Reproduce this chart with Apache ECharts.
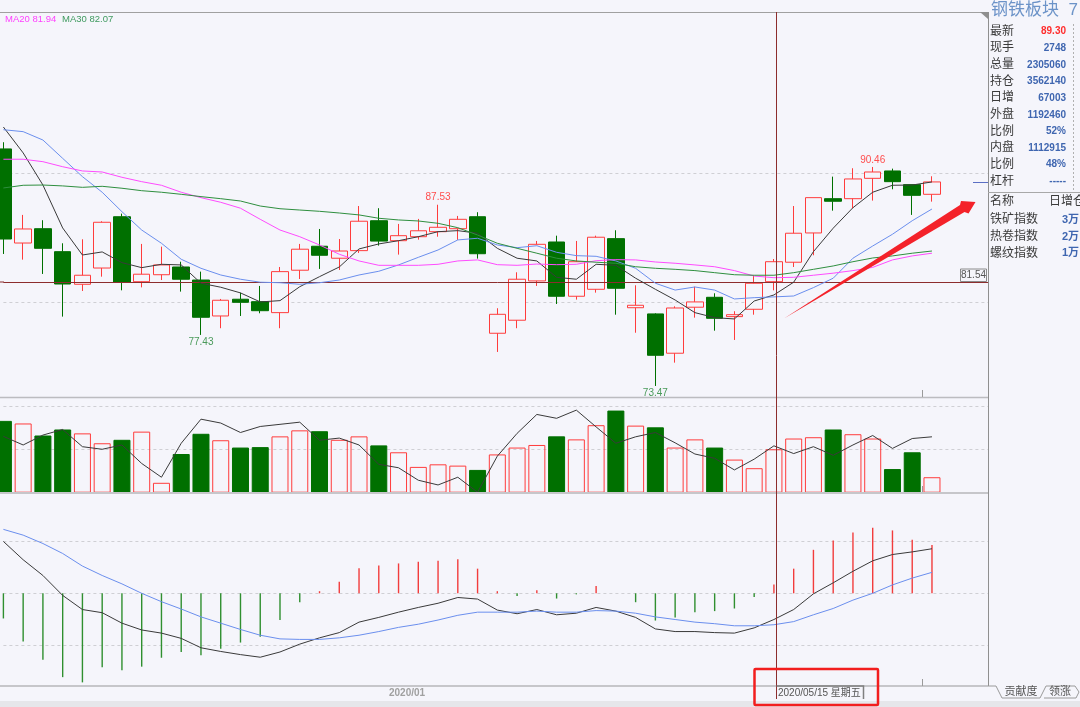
<!DOCTYPE html>
<html>
<head>
<meta charset="utf-8">
<style>
html,body{margin:0;padding:0;background:#f5f5fb;}
#main{width:1080px;height:707px;}
</style>
<script src="https://cdn.jsdelivr.net/npm/echarts@6/dist/echarts.min.js"></script>
</head>
<body>
<div id="main"></div>
<script>
// weekly bars, the last three slots on the axis are empty
var categories = [
  '2019/08/16','2019/08/23','2019/08/30','2019/09/06','2019/09/13','2019/09/20','2019/09/27','2019/10/04','2019/10/11','2019/10/18',
  '2019/10/25','2019/11/01','2019/11/08','2019/11/15','2019/11/22','2019/11/29','2019/12/06','2019/12/13','2019/12/20','2019/12/27',
  '2020/01/03','2020/01/10','2020/01/17','2020/01/24','2020/01/31','2020/02/07','2020/02/14','2020/02/21','2020/02/28','2020/03/06',
  '2020/03/13','2020/03/20','2020/03/27','2020/04/03','2020/04/10','2020/04/17','2020/04/24','2020/05/01','2020/05/08','2020/05/15',
  '2020/05/22','2020/05/29','2020/06/05','2020/06/12','2020/06/19','2020/06/26','2020/07/03','2020/07/10','2020/07/17','2020/07/24','2020/07/31'
];
var yearLabelDate = '2020/01/03';
var candleOpen = [
  91.86,84.56,85.67,83.89,81.36,82.62,86.60,81.56,82.10,82.70,
  81.69,78.90,80.20,80.01,79.16,82.45,84.31,83.38,83.97,86.29,
  84.74,85.05,85.44,85.67,86.60,77.56,78.57,81.62,84.64,80.43,
  80.97,84.90,79.54,79.06,76.01,79.58,80.35,78.85,79.42,81.56,
  83.07,85.34,88.00,88.00,89.58,90.15,89.09,88.34
];
var candleClose = [
  84.87,85.65,84.15,81.38,82.06,86.17,81.51,82.14,82.86,81.75,
  78.80,80.12,79.96,79.31,82.34,84.08,83.61,83.94,86.25,84.71,
  85.13,85.51,85.78,86.40,83.73,79.03,81.75,84.46,80.43,83.11,
  85.01,81.05,79.73,75.85,79.52,79.99,78.72,79.00,81.44,83.11,
  85.32,88.08,87.80,89.53,90.07,89.32,88.26,89.30
];
var candleLow = [
  83.71,83.27,82.16,78.85,80.84,81.95,80.89,81.12,81.69,80.79,
  77.43,77.95,78.90,79.11,77.95,81.77,82.55,82.47,83.79,84.36,
  83.66,84.82,85.05,84.80,83.35,76.11,77.95,81.23,79.83,80.17,
  80.71,79.00,77.60,73.47,75.28,78.77,77.76,77.04,79.00,80.89,
  82.70,83.61,87.07,87.26,87.85,88.73,86.74,87.77
];
var candleHigh = [
  92.38,86.74,86.33,84.54,84.85,86.25,86.84,84.49,84.28,83.11,
  82.34,80.22,80.71,81.23,82.70,84.49,85.65,84.87,87.43,87.26,
  86.04,86.43,87.53,86.66,86.95,79.50,82.29,84.72,85.13,84.72,
  85.13,85.55,81.28,79.11,79.65,81.17,80.66,79.27,82.03,83.32,
  87.43,88.08,89.71,90.36,90.46,90.33,89.09,89.74
];
var ma5 = [
  93.56,91.55,89.06,85.73,83.63,83.87,83.04,82.65,82.91,82.86,
  81.44,81.13,80.69,79.99,80.09,81.17,81.95,82.70,84.10,84.49,
  84.74,85.05,85.44,85.52,85.32,84.15,83.38,83.17,81.90,81.75,
  82.91,82.83,81.83,80.97,80.14,79.16,78.77,78.67,80.06,80.53,
  81.52,83.89,85.71,87.30,88.50,89.04,89.06,89.30
];
var ma10 = [
  93.35,93.20,92.55,91.13,89.71,88.50,86.99,85.57,84.54,83.30,
  82.60,82.08,81.75,81.52,81.48,81.36,81.48,81.69,82.08,82.37,
  82.86,83.45,84.02,84.80,84.93,84.41,84.20,84.35,83.84,83.58,
  83.53,83.17,82.60,81.44,80.91,81.15,80.91,80.22,80.32,80.38,
  80.45,81.10,81.83,83.38,84.33,85.24,86.29,87.20
];
var ma20 = [
  91.06,91.06,90.87,90.48,90.15,90.07,89.66,89.32,89.04,88.50,
  88.08,87.72,87.26,86.40,85.57,85.05,84.41,83.69,83.17,82.83,
  82.83,82.83,82.91,83.17,83.25,82.88,82.83,82.93,82.88,82.91,
  83.19,83.27,83.25,83.09,82.99,82.86,82.72,82.42,82.00,81.87,
  81.90,82.06,82.22,82.42,82.67,83.25,83.56,83.77
];
var ma30 = [
  88.83,89.04,89.06,88.99,88.88,88.96,88.81,88.62,88.50,88.34,
  88.16,88.00,87.82,87.43,87.22,87.12,87.02,86.89,86.74,86.48,
  86.35,86.27,86.09,85.75,85.18,84.54,84.15,83.77,83.38,83.17,
  83.07,82.99,82.72,82.60,82.52,82.42,82.26,82.10,82.06,82.06,
  82.26,82.52,82.78,83.11,83.40,83.56,83.77,83.94
];
var volume = [
  167,161,133,147,138,115,123,142,23,90,
  137,122,105,106,131,145,143,123,131,110,
  94,60,66,63,53,89,105,111,131,124,
  157,191,156,152,105,124,105,77,57,101,
  126,129,147,136,126,55,94,36
];
// 1 = hollow red bar, 0 = solid green bar
var volumeRed = [
  0,1,0,0,1,1,0,1,1,0,
  0,1,0,0,1,1,0,1,1,0,
  1,1,1,1,0,1,1,1,0,1,
  1,0,1,0,1,1,0,1,1,1,
  1,1,0,1,1,0,0,1
];
var openInterest = [
  131,111,134,147,107,101,111,68,36,115,
  171,162,140,154,159,164,122,127,111,66,
  58,29,18,36,1,85,138,182,173,192,
  153,115,130,140,116,90,80,53,78,109,
  91,107,87,111,133,103,126,130
];
var macdBar = [
  -0.48,-0.92,-1.27,-1.60,-1.70,-1.41,-1.47,-1.40,-1.23,-1.12,
  -1.18,-1.06,-0.94,-0.83,-0.51,-0.17,0.04,0.22,0.48,0.53,
  0.57,0.60,0.62,0.65,0.47,0.04,-0.05,0.06,-0.10,-0.02,
  0.14,0,-0.17,-0.52,-0.46,-0.36,-0.34,-0.29,-0.07,0.17,
  0.47,0.83,1.01,1.16,1.25,1.20,1.02,0.92
];
var dif = [
  0.99,0.64,0.34,-0.04,-0.31,-0.37,-0.57,-0.70,-0.76,-0.86,
  -1.04,-1.11,-1.17,-1.22,-1.12,-0.97,-0.85,-0.75,-0.55,-0.46,
  -0.36,-0.27,-0.19,-0.08,-0.11,-0.32,-0.39,-0.31,-0.41,-0.38,
  -0.27,-0.34,-0.46,-0.68,-0.73,-0.73,-0.75,-0.76,-0.66,-0.50,
  -0.31,-0.01,0.20,0.42,0.62,0.74,0.79,0.85
];
var dea = [
  1.22,1.11,0.95,0.76,0.52,0.34,0.18,0,-0.16,-0.30,
  -0.45,-0.57,-0.69,-0.80,-0.87,-0.88,-0.88,-0.85,-0.80,-0.73,
  -0.65,-0.59,-0.51,-0.42,-0.36,-0.36,-0.36,-0.34,-0.36,-0.36,
  -0.33,-0.34,-0.38,-0.45,-0.50,-0.55,-0.58,-0.62,-0.62,-0.60,
  -0.54,-0.41,-0.29,-0.13,0,0.16,0.29,0.40
];
var crossPrice = 81.54;
var peakLabels = [
  {i: 44, value: 90.46, pos: 'top', color: '#ff4d4d'},
  {i: 22, value: 87.53, pos: 'top', color: '#ff4d4d'},
  {i: 10, value: 77.43, pos: 'bottom', color: '#4a9a5a'},
  {i: 33, value: 73.47, pos: 'bottom', color: '#4a9a5a'}
];
var quoteLabels = ['最新','现手','总量','持仓','日增','外盘','比例','内盘','比例','杠杆'];
var quoteValues = ['89.30','2748','2305060','3562140','67003','1192460','52%','1112915','48%','-----'];
var sectorNames = ['铁矿指数','热卷指数','螺纹指数'];
var sectorValues = ['3万','2万','1万'];

var BG = '#f5f5fb', RED = '#ff3c3c', GREEN = '#007000', FONT = 'Liberation Sans, "Noto Sans CJK SC", sans-serif';
var candles = candleOpen.map(function(o, i){ return [o, candleClose[i], candleLow[i], candleHigh[i]]; });
var volumeItems = volume.map(function(v, i){
  return {value: v, itemStyle: volumeRed[i]
    ? {color: 'rgba(0,0,0,0)', borderColor: RED, borderWidth: 1}
    : {color: GREEN, borderColor: GREEN, borderWidth: 1}};
});

function ma(name, data, color, xi, yi, width){
  return {name: name, type: 'line', data: data, xAxisIndex: xi, yAxisIndex: yi, symbol: 'none', silent: true,
    lineStyle: {color: color, width: width || 1}, z: 5};
}
function xAxisFor(i, extra){
  var a = {type: 'category', gridIndex: i, data: categories, boundaryGap: false,
    axisLine: {show: false}, axisTick: {show: false}, axisLabel: {show: false}, splitLine: {show: false}};
  for (var k in extra) a[k] = extra[k];
  return a;
}
function yAxisFor(i, min, max, interval, hideMax){
  return {type: 'value', gridIndex: i, min: min, max: max, interval: interval, position: 'right',
    axisLine: {show: false}, axisTick: {show: false}, axisLabel: {show: false},
    splitLine: {show: true, showMinLine: false, showMaxLine: !hideMax, lineStyle: {color: '#cfcfd4', type: [3, 3], width: 1}}};
}

// grid starts on the first bar's centre, that bar is half outside the page
var gridLeft = 3.4, gridW = 987.85;
var option = {
  backgroundColor: BG,
  animation: false,
  textStyle: {fontFamily: FONT},
  grid: [
    {left: gridLeft, width: gridW, top: 44, height: 386.7},
    {left: gridLeft, width: gridW, top: 406.7, height: 86},
    {left: gridLeft, width: gridW, top: 488.5, height: 209.6}
  ],
  xAxis: [
    xAxisFor(0),
    xAxisFor(1),
    xAxisFor(2, {axisLabel: {show: true, inside: true, margin: 0, color: '#a0a0a0', fontSize: 10, fontWeight: 'bold',
      padding: [0, 0, 0, 17],
      interval: function(i, v){ return v === yearLabelDate; },
      formatter: function(v){ return v.slice(0, 7); }}})
  ],
  yAxis: [
    yAxisFor(0, 70, 100, 10, true),
    yAxisFor(1, 0, 200, 100, false),
    yAxisFor(2, -2, 2, 1, true)
  ],
  series: [
    {name: 'K', type: 'candlestick', data: candles, xAxisIndex: 0, yAxisIndex: 0, barWidth: 17, silent: true, clip: false,
      itemStyle: {color: BG, color0: GREEN, borderColor: RED, borderColor0: GREEN, borderWidth: 1},
      markLine: {silent: true, symbol: 'none', animation: false, label: {show: false},
        lineStyle: {color: '#8c2d2d', width: 1, type: 'solid'}, data: [{yAxis: crossPrice}]},
      markPoint: {silent: true, symbol: 'circle', symbolSize: 0, animation: false,
        data: peakLabels.map(function(p){
          return {coord: [p.i, p.value], label: {show: true, position: p.pos, distance: 2, color: p.color, fontSize: 10,
            formatter: p.value.toFixed(2)}};
        })}
    },
    ma('MA5', ma5, '#3a3a3a', 0, 0),
    ma('MA10', ma10, '#6b8fee', 0, 0),
    ma('MA20', ma20, '#ff4cff', 0, 0),
    ma('MA30', ma30, '#2f8f3f', 0, 0),
    {name: 'VOL', type: 'bar', data: volumeItems, xAxisIndex: 1, yAxisIndex: 1, barWidth: 17, silent: true, clip: false},
    ma('OI', openInterest, '#3a3a3a', 1, 1),
    {name: 'MACD', type: 'bar', data: macdBar, xAxisIndex: 2, yAxisIndex: 2, barWidth: 1.4, silent: true, clip: false,
      itemStyle: {color: function(p){ return p.value >= 0 ? '#f23c3c' : '#2f8f2f'; }}
    },
    ma('DIF', dif, '#3a3a3a', 2, 2),
    ma('DEA', dea, '#6b8fee', 2, 2)
  ],
  graphic: {elements: buildGraphics()}
};

function line(x1, y1, x2, y2, color, w, z){
  return {type: 'line', silent: true, z: z || 20, shape: {x1: x1, y1: y1, x2: x2, y2: y2}, style: {stroke: color, lineWidth: w || 1}};
}
function text(x, y, s, color, size, align, weight, z){
  return {type: 'text', silent: true, z: z || 32, x: x, y: y, style: {text: s, fill: color, fontSize: size, fontFamily: FONT,
    textAlign: align || 'left', textVerticalAlign: 'middle', fontWeight: weight || 'normal'}};
}
function buildGraphics(){
  var g = [];
  // pane borders
  g.push(line(0, 12.5, 988, 12.5, '#a0a0a0'));
  g.push(line(0, 397.5, 988, 397.5, '#bcbcc0', 1.5));
  g.push(line(0, 493, 988, 493, '#c6c6ca', 2));
  g.push(line(0, 686, 988, 686, '#c6c6ca', 2));
  // crosshair
  g.push(line(776.5, 12, 776.5, 699, '#8c2d2d', 1, 21));
  g.push(line(0, 282, 4, 282, '#8c2d2d'));
  // tick marks on the pane borders
  g.push(line(922.5, 390, 922.5, 397, '#9a9a9a'));
  g.push(line(922.5, 486, 922.5, 492, '#9a9a9a'));
  g.push(line(922.5, 679, 922.5, 686, '#9a9a9a'));
  // MA legend
  g.push(text(5, 19.5, 'MA20 81.94', '#ff40ff', 9.5));
  g.push(text(62, 19.5, 'MA30 82.07', '#3f9a5f', 9.5));
  // crosshair price box
  g.push({type: 'rect', silent: true, z: 22, shape: {x: 960.5, y: 269, width: 26, height: 12.5},
    style: {fill: '#f5f5fb', stroke: '#8a8a8a', lineWidth: 1}});
  g.push(text(973.5, 275.5, crossPrice.toFixed(2), '#555', 10, 'center', 'normal', 23));
  // bottom strip
  g.push({type: 'rect', silent: true, z: 18, shape: {x: 0, y: 701, width: 1080, height: 6}, style: {fill: '#e6e6ea'}});
  // date box under the crosshair
  g.push({type: 'polyline', silent: true, z: 22, shape: {points: [[776.5, 686], [863.5, 686], [863.5, 699]]},
    style: {fill: null, stroke: '#808080', lineWidth: 1.5}});
  g.push(text(778, 693, '2020/05/15 星期五', '#555', 10));
  // right panel
  g.push({type: 'rect', silent: true, z: 30, shape: {x: 988, y: 0, width: 92, height: 701}, style: {fill: BG}});
  g.push(line(988.5, 12, 988.5, 686, '#8f8f8f', 1, 31));
  g.push({type: 'polygon', silent: true, z: 31, shape: {points: [[980, 12], [988, 12], [988, 19]]}, style: {fill: '#8f8f8f'}});
  g.push(line(973, 182.5, 988, 182.5, '#5b6fc4', 1, 31));
  g.push(text(991, 10.5, '钢铁板块  7', '#6c93c8', 17));
  g.push(line(1073.5, 24, 1073.5, 190, '#b0b0b0', 1, 31));
  g[g.length - 1].style.lineDash = [2, 2];
  quoteLabels.forEach(function(s, i){
    var y = 31.5 + i * 16.65;
    g.push(text(990, y, s, '#3a3a3a', 12));
    g.push(text(1066, y, quoteValues[i], i === 0 ? '#ff2d2d' : '#3f66b0', 10, 'right', 'bold'));
  });
  g.push(line(988, 192.5, 1080, 192.5, '#a8a8a8', 1, 31));
  g.push(text(990, 202, '名称', '#3a3a3a', 12));
  g.push(text(1049, 202, '日增仓', '#3a3a3a', 12));
  sectorNames.forEach(function(s, i){
    var y = 220 + i * 16.7;
    g.push(text(990, y, s, '#3a3a3a', 12));
    g.push(text(1079, y, sectorValues[i], '#3f66b0', 11, 'right', 'bold'));
  });
  // tabs
  g.push({type: 'polyline', silent: true, z: 31, shape: {points: [[988, 686], [996, 686], [1002, 698], [1040, 698], [1046, 686], [1075, 686], [1079, 692]]},
    style: {fill: null, stroke: '#9a9a9a', lineWidth: 1}});
  g.push({type: 'polyline', silent: true, z: 31, shape: {points: [[1044, 698], [1076, 698], [1079, 692]]},
    style: {fill: null, stroke: '#9a9a9a', lineWidth: 1}});
  g.push(text(1021, 692, '贡献度', '#555', 11, 'center'));
  g.push(text(1060, 692, '领涨', '#555', 11, 'center'));
  // annotations
  g.push({type: 'polygon', silent: true, z: 40, shape: {points: [[784, 318.5], [960, 205], [961, 201], [975.5, 202], [968.5, 213.5], [964.5, 212]]},
    style: {fill: '#f4222a'}});
  g.push({type: 'rect', silent: true, z: 40, shape: {x: 754.5, y: 669, width: 123.5, height: 36, r: 1},
    style: {fill: null, stroke: '#f21e1e', lineWidth: 2.5}});
  return g;
}

var myChart = echarts.init(document.getElementById('main'), null, {renderer: 'canvas'});
myChart.setOption(option);
</script>
</body>
</html>
